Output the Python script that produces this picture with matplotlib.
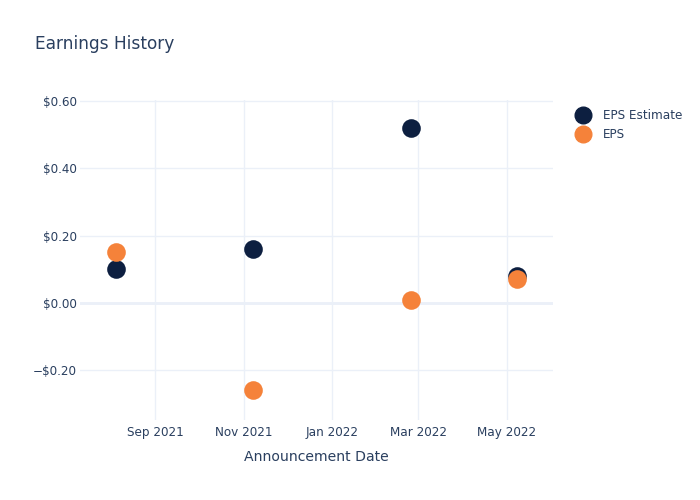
import matplotlib
matplotlib.use("Agg")
import matplotlib.pyplot as plt
import matplotlib.dates as mdates
from matplotlib.lines import Line2D
import datetime as dt

dates = ["2021-08-05", "2021-11-07", "2022-02-24", "2022-05-08"]
eps_estimate = [0.10, 0.16, 0.52, 0.08]
eps_actual = [0.15, -0.26, 0.01, 0.07]
y_ticks = [-0.2, 0.0, 0.2, 0.4, 0.6]
x_ticks = ["2021-09-01", "2021-11-01", "2022-01-01", "2022-03-01", "2022-05-01"]

plt.rcParams['font.family'] = ['DejaVu Sans']
TXT = "#2a3f5f"
GRID = "#EBF0F8"
NAVY = "#0d1f40"
ORANGE = "#f5823a"

x = [dt.datetime.strptime(d, "%Y-%m-%d") for d in dates]
xt = [dt.datetime.strptime(d, "%Y-%m-%d") for d in x_ticks]

fig = plt.figure(figsize=(7, 5), dpi=100)
ax = fig.add_axes([80/700, 80/500, 473/700, 320/500])

ax.scatter(x, eps_estimate, s=180, color=NAVY, zorder=3, linewidths=0)
ax.scatter(x, eps_actual, s=180, color=ORANGE, zorder=4, linewidths=0)

ax.set_xlim(dt.datetime(2021, 7, 11), dt.datetime(2022, 6, 2))
ax.set_ylim(-0.348, 0.603)
ax.set_yticks(y_ticks)
ax.set_yticklabels([("\u2212$%.2f" % abs(v)) if v < 0 else "$%.2f" % v for v in y_ticks])
ax.set_xticks(xt)
ax.xaxis.set_major_formatter(mdates.DateFormatter("%b %Y"))

ax.grid(True, color=GRID, linewidth=1, zorder=0)
ax.axhline(0, color=GRID, linewidth=2, zorder=1)
for s in ax.spines.values():
    s.set_visible(False)
ax.tick_params(axis='both', length=0, labelsize=8.64, colors=TXT)
ax.tick_params(axis='x', pad=4)
ax.tick_params(axis='y', pad=2)
ax.set_facecolor("white")

ax.set_xlabel("Announcement Date", fontsize=10.08, color=TXT, labelpad=8)
fig.text(35/700, 1 - 44/500, "Earnings History", fontsize=12.24, color=TXT, va='center', ha='left')

handles = [Line2D([], [], marker='o', linestyle='none', markersize=12, color=NAVY, label="EPS Estimate"),
           Line2D([], [], marker='o', linestyle='none', markersize=12, color=ORANGE, label="EPS")]
leg = fig.legend(handles=handles, loc='upper left', bbox_to_anchor=(569/700, 1 - 104/500),
                 frameon=False, fontsize=8.64, labelspacing=0.5, handletextpad=0.8,
                 handlelength=1.6, borderaxespad=0)
for t in leg.get_texts():
    t.set_color(TXT)

fig.savefig("out.png", dpi=100)
